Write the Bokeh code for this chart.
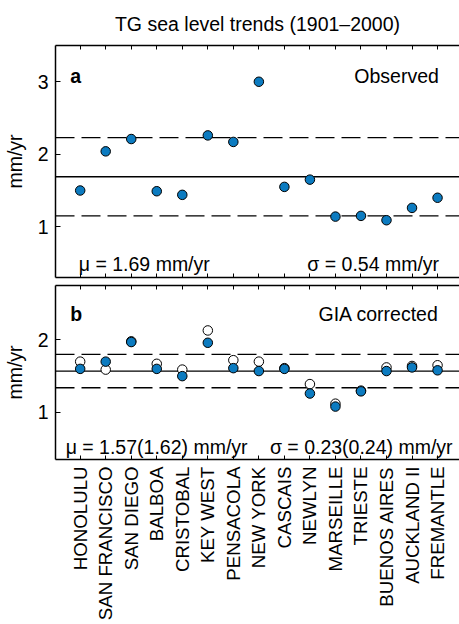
import numpy as np
from bokeh.plotting import figure
from bokeh.layouts import column
from bokeh.models import (Range1d, Span, Label, LinearAxis, FixedTicker,
                          ColumnDataSource)
from bokeh.embed import file_html
from bokeh.resources import INLINE

# ---------------- data ----------------
stations = ["HONOLULU", "SAN FRANCISCO", "SAN DIEGO", "BALBOA", "CRISTOBAL",
            "KEY WEST", "PENSACOLA", "NEW YORK", "CASCAIS", "NEWLYN",
            "MARSEILLE", "TRIESTE", "BUENOS AIRES", "AUCKLAND II", "FREMANTLE"]
observed = [1.50, 2.04, 2.21, 1.49, 1.44, 2.26, 2.17, 3.00, 1.55, 1.65,
            1.14, 1.15, 1.09, 1.26, 1.40]
gia_filled = [1.60, 1.70, 1.97, 1.60, 1.50, 1.96, 1.61, 1.57, 1.60, 1.26,
              1.08, 1.29, 1.57, 1.62, 1.58]
gia_open = [1.70, 1.59, 1.98, 1.67, 1.59, 2.13, 1.72, 1.70, 1.61, 1.39,
            1.12, 1.30, 1.62, 1.64, 1.65]
mu_obs, sigma_obs = 1.69, 0.54
mu_gia, sigma_gia = 1.57, 0.23
mu_gia_alt, sigma_gia_alt = 1.62, 0.24
yticks_top = [1, 2, 3]
yticks_bot = [1, 2]
title_text = "TG sea level trends (1901\u20132000)"

FONT = "Liberation Sans"
FS = "19.5px"
BLUE = "#0c7bc0"
idx = list(range(len(stations)))
XR = (-0.967, 14.86)


def style_axis(ax):
    ax.major_tick_in = 5
    ax.major_tick_out = 0
    ax.minor_tick_in = 0
    ax.minor_tick_out = 0
    ax.axis_line_width = 1.5
    ax.major_tick_line_width = 1
    ax.major_label_text_font = FONT
    ax.major_label_text_font_size = FS
    ax.major_label_text_color = "black"
    ax.axis_label_text_font = FONT
    ax.axis_label_text_font_size = FS
    ax.axis_label_text_font_style = "normal"
    ax.axis_label_text_color = "black"


def hidden_x_axis():
    ax = LinearAxis(ticker=FixedTicker(ticks=idx))
    style_axis(ax)
    ax.major_tick_in = 4
    ax.major_label_text_font_size = "0px"
    ax.major_label_text_alpha = 0
    ax.major_label_standoff = 0
    return ax


def make_fig(height, yr, yticks, top, bottom, title=None):
    p = figure(width=459, height=height, x_range=Range1d(*XR), y_range=Range1d(*yr),
               x_axis_type=None, y_axis_type=None, output_backend="svg",
               toolbar_location=None, min_border_left=50, min_border_right=0,
               min_border_top=top, min_border_bottom=bottom)
    p.outline_line_color = None
    p.background_fill_color = "white"
    p.border_fill_color = "white"
    ya = LinearAxis(ticker=FixedTicker(ticks=yticks), axis_label="mm/yr")
    style_axis(ya)
    ya.major_label_standoff = 7
    ya.axis_label_standoff = 9
    p.add_layout(ya, "left")
    top_axis = hidden_x_axis()
    if title:
        # chart title, centred over the frame
        top_axis.axis_label = title
        top_axis.axis_label_standoff = 11
    p.add_layout(top_axis, "above")
    return p


def add_stats(p, mu, sigma):
    p.add_layout(Span(location=mu, dimension="width", line_color="black",
                      line_width=1.3, level="underlay"))
    for loc in (mu + sigma, mu - sigma):
        p.add_layout(Span(location=loc, dimension="width", line_color="black",
                          line_width=1.3, line_dash="19 7", level="underlay"))


def label(p, x, y, text, align="left", bold=False):
    p.add_layout(Label(x=x, y=y, text=text, text_font=FONT, text_font_size=FS,
                       text_align=align, text_baseline="alphabetic",
                       text_font_style="bold" if bold else "normal",
                       text_color="black"))


# ---------------- panel a ----------------
p1 = make_fig(281, (0.3, 3.5), yticks_top, 45, 4, title=title_text)
p1.add_layout(hidden_x_axis(), "below")
add_stats(p1, mu_obs, sigma_obs)
src1 = ColumnDataSource(dict(x=idx, y=observed))
p1.scatter("x", "y", source=src1, size=9.5, fill_color=BLUE, line_color="black",
           line_width=1)
label(p1, -0.39, 3.078, "a", bold=True)
label(p1, 14.05, 3.078, "Observed", align="right")
label(p1, -0.054, 0.482, f"\u03bc = {mu_obs:.2f} mm/yr")
label(p1, 14.06, 0.482, f"\u03c3 = {sigma_obs:.2f} mm/yr", align="right")

# ---------------- panel b ----------------
p2 = make_fig(343, (0.35, 2.75), yticks_bot, 4, 165)
xa2 = LinearAxis(ticker=FixedTicker(ticks=idx),
                 major_label_overrides={i: s for i, s in enumerate(stations)})
style_axis(xa2)
xa2.major_tick_in = 4
xa2.major_label_standoff = 7
xa2.major_label_text_font_size = "18.7px"
xa2.major_label_orientation = np.pi / 2
p2.add_layout(xa2, "below")
add_stats(p2, mu_gia, sigma_gia)
src2 = ColumnDataSource(dict(x=idx, yo=gia_open, yf=gia_filled))
p2.scatter("x", "yo", source=src2, size=9.5, fill_color="white", line_color="black",
           line_width=1)
p2.scatter("x", "yf", source=src2, size=9.5, fill_color=BLUE, line_color="black",
           line_width=1)
label(p2, -0.39, 2.353, "b", bold=True)
label(p2, 14.05, 2.353, "GIA corrected", align="right")
label(p2, -0.57, 0.529, f"\u03bc = {mu_gia:.2f}({mu_gia_alt:.2f}) mm/yr")
label(p2, 14.59, 0.529, f"\u03c3 = {sigma_gia:.2f}({sigma_gia_alt:.2f}) mm/yr",
      align="right")

layout = column(p1, p2, spacing=0)
open("out.html", "w").write(file_html(layout, INLINE))
